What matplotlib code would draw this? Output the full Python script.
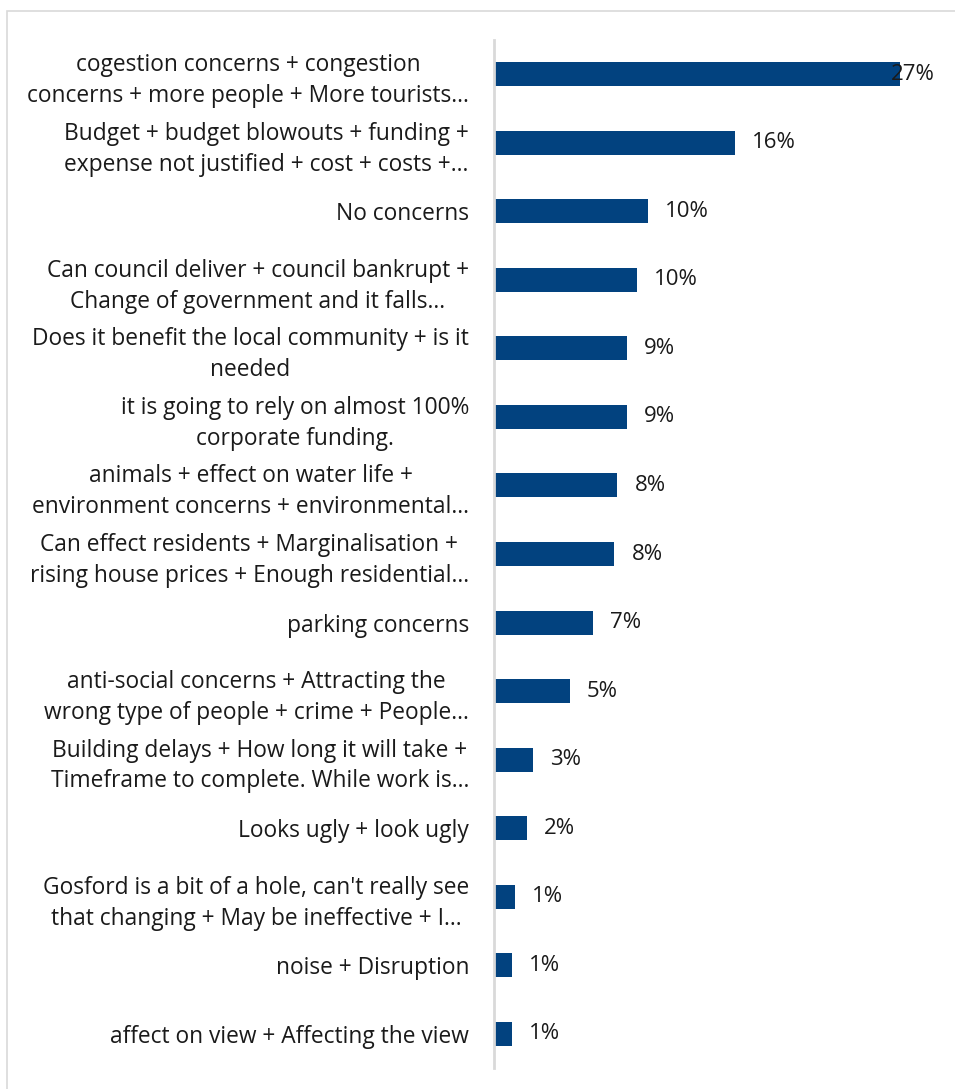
import matplotlib
matplotlib.use("Agg")
import matplotlib.pyplot as plt
from matplotlib.patches import Rectangle

categories = [
    "cogestion concerns + congestion\nconcerns + more people + More tourists...",
    "Budget + budget blowouts + funding +\nexpense not justified + cost + costs +...",
    "No concerns",
    "Can council deliver + council bankrupt +\nChange of government and it falls...",
    "Does it benefit the local community + is it\nneeded",
    "it is going to rely on almost 100%\ncorporate funding.",
    "animals + effect on water life +\nenvironment concerns + environmental...",
    "Can effect residents + Marginalisation +\nrising house prices + Enough residential...",
    "parking concerns",
    "anti-social concerns + Attracting the\nwrong type of people + crime + People...",
    "Building delays + How long it will take +\nTimeframe to complete. While work is...",
    "Looks ugly + look ugly",
    "Gosford is a bit of a hole, can't really see\nthat changing + May be ineffective + I...",
    "noise + Disruption",
    "affect on view + Affecting the view",
]
values = [27.0, 16.0, 10.2, 9.5, 8.85, 8.85, 8.2, 8.0, 6.6, 5.05, 2.6, 2.2, 1.4, 1.2, 1.2]
value_labels = ["27%", "16%", "10%", "10%", "9%", "9%", "8%", "8%", "7%", "5%",
                "3%", "2%", "1%", "1%", "1%"]

BAR = "#02427f"
GRID = "#d9d9d9"
TXT = "#1a1a1a"
FS = 16

plt.rcParams.update({
    "font.family": ["Open Sans", "DejaVu Sans"],
    "font.size": FS,
})

W, H = 955, 1089
fig = plt.figure(figsize=(W / 100, H / 100), dpi=100)
fig.patch.set_facecolor("white")

# light frame around the chart (left and top visible)
fig.add_artist(Rectangle((7 / W, -0.01), 1.0, 1 - 11 / H + 0.01,
                         transform=fig.transFigure, fill=False,
                         edgecolor=GRID, linewidth=1.2))

ax = fig.add_axes([494 / W, 1 - 1068 / H, (935 - 494) / W, (1068 - 40) / H])
n = len(values)
ypos = list(range(n))
ax.barh(ypos, values, height=0.35, color=BAR)
ax.set_ylim(n - 0.5, -0.5)
xmax = 29.3
ax.set_xlim(0, xmax)

ax.set_yticks(ypos)
ax.set_yticklabels(categories, ha="right", multialignment="center",
                   fontsize=16.4, color=TXT, linespacing=1.38)
ax.tick_params(axis="y", length=0, pad=18)
ax.set_xticks([])
for s in ["top", "right", "bottom"]:
    ax.spines[s].set_visible(False)
ax.spines["left"].set_color(GRID)
ax.spines["left"].set_linewidth(2)

px = xmax / (935 - 494)
for y, v, lab in zip(ypos, values, value_labels):
    x = v + 17 * px
    if x + 50 * px > xmax:
        ax.text(xmax, y, lab, ha="right", va="center", fontsize=FS, color=TXT)
    else:
        ax.text(x, y, lab, ha="left", va="center", fontsize=FS, color=TXT)

fig.savefig("out.png", dpi=100)
